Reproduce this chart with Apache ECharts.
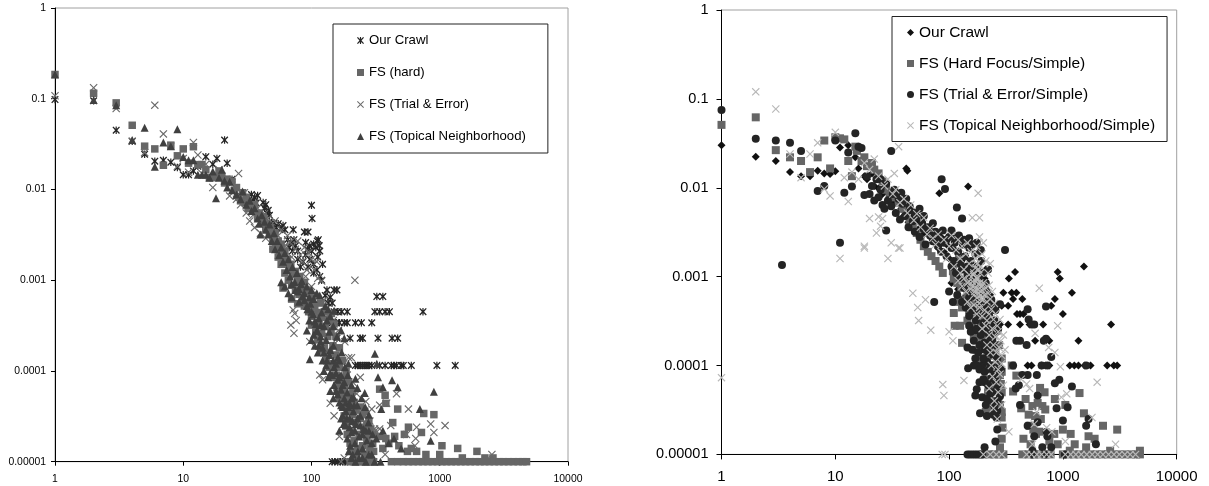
<!DOCTYPE html>
<html><head><meta charset="utf-8">
<script src="https://cdn.jsdelivr.net/npm/echarts@6/dist/echarts.min.js"></script>
<style>html,body{margin:0;padding:0;background:#fff}#c{width:1209px;height:486px}</style></head>
<body><div id="c"></div>
<script>
const xTickLabels=['1','10','100','1000','10000'];
const yTickLabels=['1','0.1','0.01','0.001','0.0001','0.00001'];
const leftNames=['Our Crawl','FS (hard)','FS (Trial & Error)','FS (Topical Neighborhood)'];
const rightNames=['Our Crawl','FS (Hard Focus/Simple)','FS (Trial & Error/Simple)','FS (Topical Neighborhood/Simple)'];

const leftCrawl=[[1,.098],[2,.095],[3,.045],[4,.034],[5,.0245],[6,.0205],[7,.021],[8,.02],[9,.0175],[10,.0145],[11,.0145],[12,.016],[13,.018],[15,.023],[17,.019],[18.3,.022],[21,.035],[22,.0195],[24,.013],[26,.0085],
[34,.0088],[35,.0075],[36,.0082],[37,.0071],[38,.0086],[42,.0072],[43,.0062],[44,.0068],[45,.0055],[46,.0059],[47,.0052],[47,.0044],[49,.0041],[51,.0043],[53,.0038],[55,.0042],[58,.0037],[60,.004],[62,.0036],[72,.0036],[88,.0034],[94,.0034],
[65,.0028],[67,.0023],[69,.0026],[71,.0021],[73,.0028],[75,.0024],[78,.0021],[90,.0026],[93,.0022],[97,.0024],[100,.0021],[104,.0025],[108,.0023],[111,.0027],[113,.0028],[115,.0024],[116,.0021],[100,.0067],[101,.0048],
[112,.0018],[104,.0015],[122,.0015],[110,.0013],[120,.001],[78,.0017],[82,.0014],[86,.0016],[90,.0019],[94,.0014],[97,.0017],[104,.0012],[116,.0011],[132,.00078],[158,.00078],[140,.00065],[150,.00078],[128,.00068],[135,.00056],[145,.00056],
[150,.00045],[160,.00045],[172,.00045],[190,.00045],[312,.00045],[340,.00045],[375,.00045],[405,.00045],[740,.00045],[323,.00066],[360,.00066],
[145,.00034],[155,.00034],[165,.00034],[180,.00034],[190,.00034],[220,.00034],[245,.00034],[295,.00034],
[158,.00023],[200,.00023],[240,.00023],[250,.00023],[330,.00023],[425,.00023],[470,.00023],
[220,.000115],[230,.000115],[240,.000115],[250,.000115],[260,.000115],[270,.000115],[280,.000115],[295,.000115],[340,.000115],[375,.000115],[420,.000115],[440,.000115],[460,.000115],[500,.000115],[520,.000115],[600,.000115],[950,.000115],[1320,.000115],
[145,.00001],[152,.00001],[160,.00001],[168,.00001],[175,.00001],[183,.00001],[190,.00001]];

const leftHard=[[1,.185],[2,.115],[3,.09],[4,.051],[5,.03],[6,.028],[7,.0185],[8,.0308],[9,.0235],[10,.028],[11,.0195],[12,.0296],[13,.0188],[14,.0188],[15,.0165],[16,.0135],[17,.0135],[18,.014],[19,.016],[20,.014],[21,.0118],[22,.013],[24,.0122],[25,.0098],[26,.0105],
[27,.0082],[28,.0075],[29,.0092],[30,.0072],[31,.0082],[32,.0062],[33,.0066],[35,.0058],[36,.0068],[38,.0049],[39,.0055],[41,.0044],[42,.005],[44,.0037],[45,.0042],[47,.0033],[48,.0038],[50,.0028],[52,.0033],[53,.0024],[55,.0027],[57,.0021],[58,.0025],[60,.0018],[62,.0021],[63,.0015],[65,.0017],[67,.0013],[69,.0015],[72,.00115],[75,.00125],[78,.00098],[81,.0011],[84,.00085],[88,.00095],[90,.00075],[95,.00078],[98,.00062],[104,.00068],
[50,.0022],[55,.0018],[58,.0015],[62,.0012],[66,.001],[70,.00088],[75,.00078],[80,.0007],[60,.00082],[70,.00062],[78,.00055],[85,.00062],[92,.00056],[98,.00048],[105,.00042],
[88,.00052],[95,.00045],[100,.0004],[106,.00052],[112,.00044],[118,.00056],[100,.00032],[108,.00028],[114,.00034],[120,.00039],[126,.00045],[112,.00022],[120,.00026],[128,.00031],[135,.00037],[143,.00043],[118,.00017],[126,.00018],[134,.00024],[142,.00028],[150,.00033],
[130,.00014],[138,.00016],[147,.00019],[155,.00024],[138,.00011],[146,.00012],[155,.00015],[165,.00018],[148,.000085],[156,.00009],[165,.00011],[175,.00013],[158,.000066],[166,.00007],[175,.000082],[186,.000098],[165,.00005],[172,.000058],[182,.000066],[195,.000076],[175,.00004],[185,.000048],[195,.000055],[210,.00006],[180,.000032],[190,.000036],[200,.000043],[215,.000045],[185,.000025],[196,.000028],[208,.000033],[222,.000037],[240,.00004],[190,.00002],[205,.000022],[220,.000027],[240,.00003],[260,.000036],[200,.000016],[215,.000017],[235,.00002],[255,.000024],[280,.000028],[210,.000013],[230,.000014],[250,.000015],[270,.000018],[300,.00002],[250,.000033],[270,.000026],[290,.000023],[225,.000012],[260,.000012],[285,.000014],[305,.000013],
[340,.000063],[375,.000054],[380,.000044],[470,.000038],[750,.000034],[900,.000033],[430,.000027],[570,.000024],[720,.000021],[530,.00002],[445,.000019],[1040,.000015],[1380,.000014],[1950,.000013],[1000,.000012],[780,.000012],[1500,.000011],[660,.000013],[2250,.000011],[2600,.000011],[340,.000019],[380,.000018],[400,.000016],[480,.000015],[560,.000013],[600,.000014],[300,.000016],[360,.000014],
[200,.00001],[215,.00001],[230,.00001],[245,.00001],[260,.00001],[275,.00001],[290,.00001],[305,.00001],[420,.00001],[470,.00001],[520,.00001],[570,.00001],[620,.00001],[680,.00001],[740,.00001],[810,.00001],[880,.00001],[960,.00001],[1040,.00001],[1130,.00001],[1230,.00001],[1340,.00001],[1460,.00001],[1590,.00001],[1730,.00001],[1890,.00001],[2060,.00001],[2240,.00001],[2440,.00001],[2660,.00001],[2900,.00001],[3160,.00001],[3440,.00001],[3750,.00001],[4090,.00001],[4450,.00001],[4750,.00001]];

const leftTrial=[[1,.108],[2,.132],[3,.078],[4,.034],[5,.0255],[6,.085],[7,.041],[8,.03],[9,.018],[10,.022],[11,.0155],[12,.033],[13,.024],[14,.015],[15,.019],[17,.0105],[19,.0165],[22,.0125],[24,.0118],[27,.015],[23,.0085],
[26,.0078],[28,.0068],[30,.0092],[31,.0055],[32,.0072],[33,.0045],[35,.0052],[36,.0038],[38,.0062],[40,.0033],[41,.0047],[43,.0054],[44,.0029],[46,.0048],[49,.0035],[50,.0024],[52,.0045],[55,.0031],[55,.0019],[58,.0036],[60,.0015],[62,.0024],[65,.0031],[68,.0026],[70,.0018],[72,.0012],[75,.0022],[78,.0027],[82,.0019],[85,.0016],[88,.0023],[92,.0013],[95,.002],[100,.0017],[105,.0013],[110,.0016],[80,.00095],[90,.0011],[100,.00085],[112,.00105],[120,.00098],[74,.00043],[72,.00047],[76,.00036],[69,.00032],[73,.00026],
[218,.001],[205,.00014],[97,.00021],[116,.00009],[122,.00008],[140,.000044],[150,.000032],[165,.000019],[108,.00041],[125,.0006],[135,.00042],[148,.00036],[162,.00028],[182,.00021],[195,.00014],[178,.00012],[158,.00008],[190,.00009],[170,.00006],[210,.000075],[196,.000048],[225,.000056],[240,.000085],[230,.00003],[265,.000046],[295,.000038],[250,.000022],[285,.000028],[315,.000022],
[460,.000056],[385,.000044],[570,.000038],[340,.000042],[850,.000026],[1100,.000025],[660,.000024],[900,.000021],[415,.000025],[340,.000023],[310,.000023],[650,.000018],[550,.00002],[640,.000015],[375,.000012],[2550,.000012],[180,.000011],[170,.00001],[300,.00001]];

const leftTopical=[[1,.185],[2,.097],[3,.085],[4,.035],[5,.048],[6,.0178],[7,.033],[8,.03],[9,.046],[10,.0228],[11,.021],[12,.021],[13,.0145],[14,.0145],[15,.0145],[16,.0135],[17,.0158],[18,.008],[19,.0135],[20,.0165],[21,.0125],[22,.0105],[23,.0122],[24,.0098],[26,.0088],[28,.0078],[29,.0095],[31,.0068],[33,.0075],[34,.0058],[36,.0062],[38,.0048],[39,.0042],[40,.0032],[41,.0052],[43,.0044],[44,.0036],[46,.0032],[47,.0041],[49,.0027],[51,.0033],[52,.0022],[54,.0027],[56,.0019],[58,.0023],[60,.0016],[62,.002],[64,.0013],[66,.0017],[68,.0011],[71,.0014],[74,.00095],[77,.0012],[80,.0008],[84,.00098],[88,.00072],[92,.00085],[96,.00065],[100,.00078],[58,.00095],[62,.00085],[66,.00072],[70,.00065],[75,.00078],[80,.00058],[85,.00066],[92,.00052],[98,.00055],[104,.00062],[110,.00072],[116,.00068],
[70,.0009],[78,.00075],[83,.0009],[88,.0006],[93,.00048],[100,.00045],[106,.00035],[112,.00027],[118,.00032],[92,.00028],[100,.00022],[106,.00019],[112,.00016],[118,.00021],[125,.00016],[132,.00013],[140,.00017],[148,.00013],[155,.00012],[165,.00013],[125,.0001],[135,.000085],[145,.00009],[155,.000095],[165,.000085],[175,.00007],[140,.00006],[148,.00005],[155,.00006],[165,.000045],[175,.00004],[185,.000045],[195,.00004],[205,.00005],[215,.000042],[170,.00003],[178,.000026],[188,.00003],[198,.000024],[208,.000028],[218,.000022],[228,.00003],[240,.000025],[250,.00002],[265,.000022],[280,.000022],[295,.000016],[195,.000013],[205,.000011],[220,.00001],[235,.000011],[250,.000011],[265,.00001],[280,.000012],[295,.000012],[310,.00001],
[96,.00036],[103,.00042],[108,.00033],[114,.00038],[120,.00044],[128,.00052],[135,.00048],[104,.00025],[110,.00028],[118,.00024],[125,.00031],[132,.00036],[140,.0004],[150,.00046],[97,.000135],[114,.00019],[122,.00018],[130,.00022],[138,.00027],[148,.00031],[122,.00013],[130,.000115],[138,.00015],[148,.00019],[158,.00024],[170,.00028],[180,.00023],[140,.000095],[150,.00011],[160,.00014],[172,.00016],[150,.00007],[160,.00008],[170,.00009],[182,.00011],[194,.00012],[160,.000055],[170,.000062],[180,.000075],[192,.00009],[170,.000042],[180,.00005],[190,.000058],[205,.00007],[220,.000082],[175,.000032],[185,.000036],[198,.000044],[212,.000052],[228,.000065],[260,.000057],[165,.000022],[185,.000025],[198,.00003],[212,.000036],[228,.000042],[245,.00005],[190,.000018],[205,.000021],[222,.000026],[240,.000032],[262,.00004],[280,.000033],[200,.000015],[218,.000016],[235,.000019],[255,.000023],[278,.000027],[210,.000012],[230,.000013],[250,.000014],[270,.000017],[300,.00002],
[312,.000155],[323,.00012],[330,.000085],[425,.000079],[360,.000066],[470,.000066],[900,.000059],[350,.000038],[700,.000038],[850,.000017],[360,.000022],[440,.000018],[400,.000016],[500,.000014],[320,.000018],[345,.00001]];

const rightCrawl=[[1,.03],[2,.0223],[3,.02],[4,.015],[5,.0135],[6,.0135],[7,.0155],[8,.0145],[9,.0143],[10,.0153],[11,.0283],[13,.03],[15,.022],[16,.0165],[18,.0135],[19,.0125],[21,.0145],[22,.0105],[24,.0098],[26,.0085],[42,.0165],[43,.0155],[28,.0092],[30,.008],[32,.0068],[35,.0072],[38,.0058],[40,.0048],[44,.0041],[47,.0046],[50,.0034],[53,.0042],[56,.0036],[60,.003],[65,.0033],[70,.0027],[75,.0024],[80,.0021],[82,.0087],[147,.0103],
[85,.0028],[90,.0019],[95,.0023],[100,.0016],[108,.0021],[115,.0014],[120,.0018],[128,.0012],[135,.0016],[145,.0011],[155,.0013],[165,.00095],[178,.00105],[190,.00085],[205,.00095],[218,.0007],[230,.00062],[105,.00085],[120,.00072],[135,.00058],[150,.00048],[165,.00055],[180,.00042],[200,.00046],[215,.00052],[230,.0004],[185,.0019],[195,.0015],[210,.0012],
[1530,.0013],[900,.00113],[940,.00095],[380,.00113],[335,.00095],[1200,.00066],[300,.00066],[355,.00066],[390,.00066],[850,.00056],[365,.00056],[440,.00056],[790,.00047],[240,.00047],[265,.00047],[290,.00047],[330,.00047],[1000,.00038],[395,.00038],[420,.00038],[450,.00038],[2650,.00029],[255,.00029],[280,.00029],[330,.00029],[420,.00029],[510,.00029],[670,.00029],[1370,.00019],[570,.00019],[760,.00019],
[490,.0001],[530,.0001],[650,.0001],[700,.0001],[760,.0001],[1150,.0001],[1260,.0001],[1370,.0001],[1560,.0001],[1750,.0001],[2450,.0001],[2800,.0001],[3000,.0001]];

const rightHard=[[1,.051],[2,.062],[3,.0265],[4,.022],[5,.02],[6,.015],[7,.022],[8,.034],[9,.0165],[10,.037],[11,.036],[12,.035],[13,.02],[14,.0135],[15,.029],[15.5,.026],[17,.02],[18,.022],[19,.0175],[21,.019],[22,.016],[24,.0145],[26,.0118],[28,.0095],[30,.0088],[33,.0078],[36,.0068],[39,.0058],[42,.0048],[45,.0042],[48,.0036],[52,.0031],[56,.0026],[60,.0022],[65,.0019],[70,.0017],[76,.0015],[82,.0013],[88,.0011],[108,.00115],[115,.0014],[122,.0016],[110,.00095],[118,.00085],[128,.00075],[135,.0009],[145,.00062],[155,.00075],[120,.00052],[130,.00045],[140,.00055],[150,.00042],[160,.00052],[170,.00045],[110,.00039],[112,.00028],[125,.00028],[130,.00018],[145,.00032],[158,.00028],[175,.00034],[190,.00028],[205,.00036],[165,.00021],[180,.00023],[195,.0002],[210,.00024],[225,.00028],[175,.00015],[190,.00016],[210,.00017],[230,.00019],[245,.00022],[265,.00025],[195,.00012],[215,.00012],[235,.00013],[255,.00015],[275,.00017],[210,.000095],[230,.0001],[250,.0001],[270,.00011],[290,.00012],
[280,.000078],[290,.000085],[285,.000062],[290,.00005],[280,.000036],[290,.00003],[290,.000026],[295,.00002],[290,.000015],[280,.000012],[210,.00003],[240,.000033],[225,.00007],[250,.00006],[265,.00007],[220,.00005],[250,.00004],[270,.00004],
[355,.0001],[390,.000077],[365,.000051],[630,.000056],[690,.00005],[850,.000042],[1400,.000049],[1050,.000036],[1530,.000029],[2250,.000021],[3000,.000019],[1680,.000016],[1900,.000015],[1170,.000017],[1000,.000019],[840,.000017],[450,.000015],[1270,.000013],[1600,.000012],[760,.000014],[540,.000035],[600,.000038],[660,.000035],[700,.000032],[470,.000042],[430,.000033],[500,.000028],[570,.000027],[640,.000025],[510,.000021],[550,.000019],[580,.000017],[620,.000018],[520,.000013],[440,.00001],[900,.000013],[2600,.000011],[1150,.000011],
[200,.00001],[225,.00001],[250,.00001],[275,.00001],[300,.00001],[500,.00001],[560,.00001],[620,.00001],[700,.00001],[780,.00001],[1000,.00001],[1120,.00001],[1250,.00001],[1400,.00001],[1570,.00001],[1760,.00001],[1980,.00001],[2220,.00001],[2490,.00001],[2800,.00001],[3140,.00001],[3520,.00001],[3950,.00001],[4400,.00001],[4750,.00001],[4750,.000011]];

const rightTrial=[[1,.075],[2,.0355],[3,.034],[3.4,.00135],[4,.032],[5,.026],[7,.0092],[8,.0105],[10,.034],[11,.0024],[12,.0088],[13,.025],[14,.0103],[15,.041],[16,.029],[17,.028],[18,.0083],[19,.0135],[20,.0085],[21,.0105],[22,.0072],[23,.0125],[24,.0078],[25,.0095],[26,.0064],[27,.0058],[28,.0033],[29,.0072],[31,.026],[31,.0062],[33,.0095],[34,.0052],[35,.0085],[37,.0044],[39,.0066],[41,.0048],[42,.0075],[44,.0036],[46,.0056],[48,.0042],[50,.0032],[52,.0047],[55,.0028],[58,.004],[60,.0034],[62,.0023],[65,.0036],[68,.0029],[72,.0025],[76,.0032],[80,.0022],[82,.0027],[86,.0125],[92,.0097],[117,.006],[130,.0045],[310,.002],
[25,.0125],[28,.011],[32,.0085],[36,.0075],[38,.0088],[45,.0062],[50,.0052],[55,.0058],[60,.0048],[66,.0035],[72,.004],[78,.0029],[88,.0033],[95,.0026],[105,.0033],[112,.0024],[122,.0029],[135,.0026],[150,.0027],[160,.0023],[175,.0024],[190,.002],[105,.0013],[115,.0011],[130,.0012],[145,.00105],[165,.00088],[180,.00082],[195,.00075],[210,.00065],[235,.00055],[255,.00042],[150,.00058],[170,.00062],[185,.00052],[205,.00042],[225,.00036],[150,.00028],[170,.00025],[190,.00026],[210,.00025],[230,.00021],[270,.00026],[185,.00017],[205,.00015],[225,.00017],[250,.00017],[195,.0001],[215,.00011],[235,.0001],[265,.00012],[205,.000065],[235,.000072],[255,.000068],[285,.00009],[210,.000036],[230,.000048],[250,.000035],[280,.000045],
[85,.0019],[90,.0024],[95,.0017],[100,.0028],[105,.0021],[110,.0015],[115,.0027],[120,.0019],[126,.0014],[132,.0023],[138,.0017],[145,.0013],[150,.0021],[155,.0015],[162,.0012],[170,.0018],[178,.0013],[185,.001],[192,.0015],[200,.0011],[210,.00085],[220,.0012],[125,.00095],[135,.00075],[145,.00088],[155,.00065],[165,.00078],[175,.00058],[188,.00068],[200,.0005],[215,.00058],[230,.00045],[130,.00052],[118,.00062],[74,.00052],[100,.00068],[108,.00052],[140,.00045],[150,.00036],[160,.00042],[172,.00032],[185,.00038],[200,.0003],[215,.00034],[230,.00028],[250,.00032],[155,.00024],[165,.00019],[175,.00026],[190,.00022],[205,.00018],[220,.00023],[240,.00019],[260,.00024],[145,.00016],[160,.00015],[170,.00012],[180,.00014],[200,.00012],[220,.00014],[245,.00013],[147,.000093],[165,.0001],[175,.0001],[185,.00009],[205,.000085],[225,.00009],[250,.00008],[270,.000095],[175,.000054],[170,.000046],[185,.000065],[200,.00007],[220,.00006],[240,.00005],[265,.000055],[195,.000044],[215,.000042],[240,.000038],[265,.00004],[187,.000029],[215,.000027],[245,.000028],[265,.000031],[260,.000026],[265,.000019],[255,.000014],[205,.000012],
[280,.00049],[490,.00043],[710,.00046],[500,.00033],[530,.00029],[560,.00029],[420,.00019],[480,.00017],[390,.00019],[710,.0002],[680,.00019],[790,.000125],[650,.0001],[730,.0001],[1600,.0001],[365,.0001],[440,.000078],[490,.000078],[590,.000078],[930,.000069],[850,.000063],[1200,.000058],[410,.00006],[385,.000055],[600,.000046],[420,.000036],[880,.000033],[1100,.000034],[600,.000023],[490,.000021],[1000,.000024],[1600,.000021],[1680,.000025],[560,.000016],[720,.000018],[1950,.000013],[540,.000011],[660,.000012],[790,.000012],[1040,.00001],[730,.000016],
[145,.00001],[152,.00001],[160,.00001],[168,.00001],[176,.00001],[185,.00001],[195,.00001],[540,.00001],[700,.00001]];

const rightTopical=[[1,.000073],[2,.12],[3,.077],[4,.024],[5,.013],[6,.024],[7,.032],[8,.0097],[9,.0081],[10,.042],[12,.013],[13,.007],[14,.015],[16,.0125],[18,.0022],[20,.0045],[23,.0031],[24,.0047],[25,.0037],[26,.0045],[31,.0024],[33,.0145],[36,.029],[37,.0021],[11,.0016],[18,.0021],[29,.0016],[36,.0021],
[18,.019],[20,.016],[22,.021],[24,.0135],[27,.0105],[29,.0125],[32,.0085],[34,.0095],[37,.0068],[40,.0075],[43,.0052],[46,.0064],[49,.0043],[52,.0051],[56,.0036],[60,.0046],[64,.003],[48,.00065],[62,.00055],[53,.00045],[54,.00032],[69,.00025],[100,.00024],[108,.00019],[135,.000068],[88,.000061],[90,.000046],[87,.00001],[92,.00001],
[68,.0035],[72,.0027],[76,.0023],[80,.003],[85,.0019],[90,.0026],[95,.0016],[100,.0022],[105,.0029],[110,.0013],[115,.002],[120,.0026],[125,.0016],[130,.0022],[135,.0012],[140,.0018],[145,.0024],[150,.0014],[155,.0019],[160,.0046],[165,.0011],[170,.0016],[175,.0022],[180,.0087],[185,.0046],[185,.0028],[190,.0013],[195,.0018],[200,.0024],[210,.0015],[220,.0011],[230,.0014],
[168,.0019],[172,.0016],[176,.0014],[182,.0012],[188,.0011],[178,.00095],[186,.00085],[194,.00078],[170,.00125],[164,.00105],[172,.00088],[180,.00072],[190,.00062],[198,.00055],[168,.00068],[176,.00058],[184,.0005],[160,.00078],[150,.00088],
[120,.0009],[125,.0011],[130,.00078],[135,.00095],[140,.00068],[145,.00085],[150,.00105],[155,.00072],[160,.00088],[165,.00062],[170,.00075],[175,.00095],[180,.00065],[185,.0008],[190,.00056],[195,.0007],[200,.00085],[205,.00062],[210,.00075],[215,.00052],[220,.00065],[225,.0008],[230,.00056],[240,.00068],[250,.0005],[145,.00052],[155,.00045],[165,.00048],[175,.00038],[185,.00045],[195,.00036],[205,.00042],[215,.00032],[225,.00038],[235,.00043],[245,.00033],[255,.00038],[265,.00028],[280,.00033],
[195,.00026],[210,.00028],[225,.00022],[240,.00026],[255,.00021],[270,.00024],[285,.00019],[300,.00022],[215,.00017],[230,.00014],[245,.00017],[260,.00014],[275,.00016],[290,.00013],[310,.00015],[235,.0001],[255,.00011],[270,.00009],[290,.000105],[240,.000075],[260,.000065],[280,.00008],[300,.00006],[225,.000055],[250,.00004],[270,.00005],[290,.000036],[245,.000033],[265,.000025],
[620,.00074],[900,.00028],[750,.00016],[850,.00014],[950,.000097],[2000,.000065],[1080,.000048],[970,.000044],[1800,.000026],[720,.00002],[335,.000018],[1050,.000014],[2900,.000013],[540,.000013],[430,.00007],[480,.000062],[510,.000055],[590,.00003],[560,.000022],[800,.000018],[570,.00023],
[480,.00001],[530,.00001],[590,.00001],[650,.00001],[720,.00001],[790,.00001],[1050,.00001],[1170,.00001],[1300,.00001],[1450,.00001],[1620,.00001],[1810,.00001],[2020,.00001],[2250,.00001],[2520,.00001],[2810,.00001],[3130,.00001],[3500,.00001],[3900,.00001],[4350,.00001],[200,.00001],[230,.00001],[260,.00001],[290,.00001]];

const crossPath='path://M0 1L1 0L5 4L9 0L10 1L6 5L10 9L9 10L5 6L1 10L0 9L4 5Z';
const starPath='path://M0 1.2L1.2 0L4.2 3V0H5.8V3L8.8 0L10 1.2L6.5 5L10 8.8L8.8 10L5.8 7V10H4.2V7L1.2 10L0 8.8L3.5 5Z';
const c={crawlL:'#262626',hardL:'#666666',trialL:'#6a6a6a',topL:'#404040',crawlR:'#111111',hardR:'#666666',trialR:'#242424',topR:'#b8b8b8'};

function axes(idx,fx,fy,mx,my,tl){
  const line={lineStyle:{color:'#000',width:1}};
  return {
    x:{gridIndex:idx,type:'log',logBase:10,min:1,max:10000,position:'bottom',
      axisLine:{onZero:false,...line},axisTick:{show:true,inside:false,length:tl,lineStyle:{color:'#000'}},
      splitLine:{show:false},minorTick:{show:false},
      axisLabel:{fontFamily:'Liberation Sans',fontSize:fx,color:'#000',margin:mx,showMinLabel:true,showMaxLabel:true,
        formatter:v=>xTickLabels[Math.round(Math.log10(v))]}},
    y:{gridIndex:idx,type:'log',logBase:10,min:0.00001,max:1,position:'left',
      axisLine:{onZero:false,...line},axisTick:{show:true,inside:false,length:tl,lineStyle:{color:'#000'}},
      splitLine:{show:false},minorTick:{show:false},
      axisLabel:{fontFamily:'Liberation Sans',fontSize:fy,color:'#000',margin:my,showMinLabel:true,showMaxLabel:true,
        formatter:v=>yTickLabels[Math.round(-Math.log10(v))]}}
  };
}
function scat(name,data,sym,size,color,i){
  return {type:'scatter',name,data,symbol:sym,symbolSize:size,xAxisIndex:i,yAxisIndex:i,clip:false,
    itemStyle:{color,opacity:1},emphasis:{disabled:true},silent:true};
}
const a0=axes(0,10.4,10.4,12,9,4),a1=axes(1,15,14.5,15,13,5);
const chart=echarts.init(document.getElementById('c'),null,{renderer:'canvas'});
chart.setOption({
  animation:false,backgroundColor:'#fff',tooltip:{show:false},
  grid:[
    {left:55,top:8,width:513,height:453.7,show:true,borderColor:'#a0a0a0',borderWidth:1,backgroundColor:'#fff'},
    {left:721.5,top:10,width:455.2,height:444.4,show:true,borderColor:'#a0a0a0',borderWidth:1,backgroundColor:'#fff'}
  ],
  xAxis:[a0.x,a1.x],yAxis:[a0.y,a1.y],
  legend:[
    {show:true,orient:'vertical',left:333,top:24,itemWidth:7,itemHeight:7,itemGap:19,selectedMode:false,
     padding:[10,22,10,24],backgroundColor:'#fff',borderColor:'#222',borderWidth:1,
     textStyle:{fontFamily:'Liberation Sans',fontSize:13.2,color:'#000'},
     data:[{name:leftNames[0],icon:starPath,itemStyle:{color:c.crawlL}},{name:leftNames[1],icon:'rect',itemStyle:{color:c.hardL}},
           {name:leftNames[2],icon:crossPath,itemStyle:{color:c.trialL}},{name:leftNames[3],icon:'triangle',itemStyle:{color:c.topL}}]},
    {show:true,orient:'vertical',left:892,top:16.5,itemWidth:7,itemHeight:7,itemGap:15,selectedMode:false,
     padding:[8,12,8,15],backgroundColor:'#fff',borderColor:'#222',borderWidth:1,
     textStyle:{fontFamily:'Liberation Sans',fontSize:15.5,color:'#000'},
     data:[{name:rightNames[0],icon:'diamond',itemStyle:{color:c.crawlR}},{name:rightNames[1],icon:'rect',itemStyle:{color:c.hardR}},
           {name:rightNames[2],icon:'circle',itemStyle:{color:c.trialR}},{name:rightNames[3],icon:crossPath,itemStyle:{color:c.topR}}]}
  ],
  series:[
    scat(leftNames[0],leftCrawl,starPath,7.5,c.crawlL,0),
    scat(leftNames[1],leftHard,'rect',7.5,c.hardL,0),
    scat(leftNames[2],leftTrial,crossPath,8,c.trialL,0),
    scat(leftNames[3],leftTopical,'triangle',8,c.topL,0),
    scat(rightNames[0],rightCrawl,'diamond',8,c.crawlR,1),
    scat(rightNames[1],rightHard,'rect',8,c.hardR,1),
    scat(rightNames[2],rightTrial,'circle',8,c.trialR,1),
    scat(rightNames[3],rightTopical,crossPath,8,c.topR,1)
  ]
});
</script></body></html>
